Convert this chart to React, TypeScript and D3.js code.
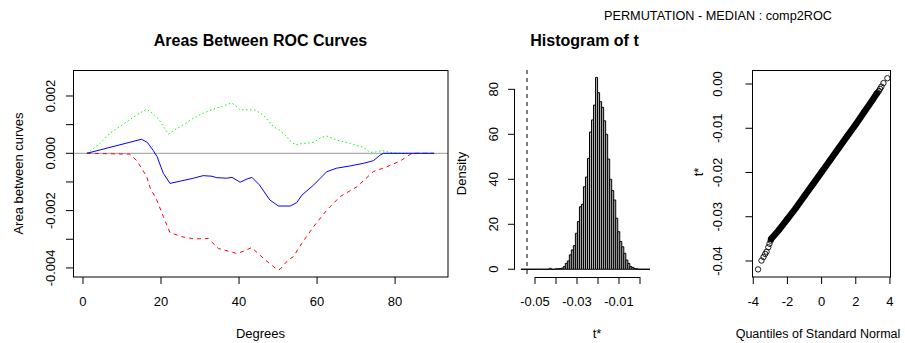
import React from "react";
import * as d3 from "d3";

// ---------- Data ----------
// Panel 1: areas between ROC curves (degrees, value)
const greenCurve: [number, number][] = [
  [1, 0], [4, 0.0003], [6.9, 0.0007], [11.2, 0.0011], [14.5, 0.0014], [16.3, 0.00154], [17.8, 0.0014],
  [19.5, 0.00118], [20.8, 0.0009], [21.9, 0.00067], [23.5, 0.00082], [25.7, 0.00099], [28, 0.0012],
  [30.8, 0.0014], [34, 0.00157], [36, 0.00165], [38.1, 0.00176], [39.2, 0.00165], [40.3, 0.00151],
  [42, 0.00152], [44.1, 0.00151], [46.2, 0.00134], [48.8, 0.00093], [50.5, 0.0008], [51.8, 0.00064],
  [53, 0.00045], [54.4, 0.00029], [56, 0.00034], [58, 0.00036], [59.5, 0.00041], [61, 0.00055],
  [62.5, 0.0006], [64, 0.00052], [65, 0.00046], [68.5, 0.00035], [70, 0.00028], [71.9, 0.00021],
  [73.6, 0.00003], [75, 0.00005], [76.6, 0.0001], [78.7, 0.00003], [81, 0], [90, 0],
];
const blueCurve: [number, number][] = [
  [1, 0], [15, 0.00049], [16.5, 0.00038], [18, 0.0001], [19, -0.00012], [20.6, -0.0007], [22.3, -0.00105],
  [25, -0.00097], [28.3, -0.00087], [30.8, -0.00078], [33, -0.0008], [34.3, -0.00085], [36.8, -0.00087],
  [38.2, -0.00084], [40.3, -0.00101], [42, -0.0009], [43.3, -0.00084], [45.2, -0.0011], [47.9, -0.00163],
  [50.1, -0.00184], [53.1, -0.00184], [54.8, -0.00172], [56.1, -0.00146], [59.1, -0.00111], [62.5, -0.00064],
  [65, -0.00052], [68.5, -0.00044], [71.9, -0.00035], [74.4, -0.00026], [76.2, -0.00006], [77, 0], [90, 0],
];
const redCurve: [number, number][] = [
  [1, 0], [12, -0.00003], [13.8, -0.00026], [16.3, -0.0008], [17.2, -0.0012], [18.9, -0.00163],
  [20.6, -0.00221], [22.3, -0.00277], [25.3, -0.00291], [28.7, -0.00299], [32.1, -0.00297], [34.7, -0.00332],
  [37.7, -0.00343], [39.5, -0.0035], [41.5, -0.0034], [43.2, -0.00329], [46.7, -0.00372], [49.7, -0.00405],
  [50.5, -0.00405], [52.6, -0.00372], [53.9, -0.00361], [56.1, -0.00314], [59.1, -0.00256], [62.5, -0.00198],
  [65.9, -0.00151], [70.2, -0.00117], [74.4, -0.00064], [77.9, -0.00047], [81.3, -0.00027], [84.3, 0], [90, 0],
];
const degTicks = [0, 20, 40, 60, 80];
const areaTicks = [-0.004, -0.003, -0.002, -0.001, 0, 0.001, 0.002];
const areaLabels = [-0.004, -0.002, 0, 0.002];

// Panel 2: histogram of t (density per bin)
const T0 = -0.0538;
const BIN_WIDTH = 0.00096;
const FIRST_K = -3;
const densities = [
  0, 0, 0, 0, 0, 0, 0, 0, 0, 0, 0, 0, 0, 0, // k=-3..10
  0.4, 0, 0, 0.2, 0.2, 0.3, 0.5, 1.2, 2.6, 3.7, 6.4, 8.6, 10.5, 16, 21.2, 27.8, 28.9, 36.7, 41, 49.3, 61, 66.4, 73,
  85.3,
  78.5, 74.5, 72, 66, 60, 49, 40, 35, 30.8, 22.7, 16.7, 12.3, 10, 7.1, 4.1, 2.6, 1.2, 0.8, 0.3, 0.2,
  0, 0, 0, 0, 0, 0,
];
const histXTicks = [-0.05, -0.04, -0.03, -0.02, -0.01, 0];
const histXLabels = [-0.05, -0.03, -0.01];
const histYTicks = [0, 20, 40, 60, 80];

// Panel 3: normal QQ plot (theoretical quantile, t*)
const qqDense: [number, number][] = [
  [-2.95, -0.035], [-2.5, -0.033], [-2.0, -0.0305], [-1.5, -0.028], [-1, -0.0253], [-0.5, -0.0226],
  [0, -0.0199], [0.5, -0.0172], [1, -0.0145], [1.5, -0.0118], [2, -0.0091], [2.5, -0.0063], [3.0, -0.0035],
  [3.22, -0.0022],
];
const qqTail: [number, number][] = [
  [-3.72, -0.0419], [-3.52, -0.0399], [-3.4, -0.0391], [-3.3, -0.0384], [-3.22, -0.0379], [-3.12, -0.0369],
  [-3.05, -0.0361], [-2.98, -0.0354],
  [3.28, -0.0019], [3.35, -0.0016], [3.42, -0.0011], [3.5, -0.0006], [3.62, 0.0002], [3.85, 0.0013],
];
const qqXTicks = [-4, -2, 0, 2, 4];
const qqYTicks = [0, -0.01, -0.02, -0.03, -0.04];

// ---------- Layout ----------
const W = 905, H = 343;
const FONT = "'Liberation Sans', Arial, sans-serif";
const TOP = 70, BOTTOM = 277;

export default function App() {
  // Panel 1
  const x1 = d3.scaleLinear().domain([-2.56, 93.56]).range([73, 448]);
  const y1 = d3.scaleLinear().domain([-0.004317, 0.002907]).range([BOTTOM, TOP]);
  const line1 = d3.line<[number, number]>().x(d => x1(d[0])).y(d => y1(d[1]));

  // Panel 2
  const x2 = d3.scaleLinear().domain([-0.05952, 0.00714]).range([515, 655]);
  const y2 = d3.scaleLinear().domain([-3.44, 88.6]).range([BOTTOM, TOP]);
  const bars = densities.map((h, i) => {
    const a = T0 + (FIRST_K + i) * BIN_WIDTH;
    return { x0: a, x1: a + BIN_WIDTH, h };
  });

  // Panel 3
  const x3 = d3.scaleLinear().domain([-4.05, 4.05]).range([752.4, 890.8]);
  const y3 = d3.scaleLinear().domain([-0.043616, 0.003164]).range([BOTTOM, TOP]);
  const line3 = d3.line<[number, number]>().x(d => x3(d[0])).y(d => y3(d[1]));

  const tickLen = 7;
  const txt = { fontFamily: FONT, fontSize: 13, fill: "#000" } as const;

  const rotLabel = (x: number, y: number, s: string, key: string, size = 13) => (
    <text key={key} transform={`translate(${x},${y}) rotate(-90)`} textAnchor="middle" dy="0.35em"
      style={{ ...txt, fontSize: size }}>{s}</text>
  );

  return (
    <svg width={W} height={H} style={{ position: "absolute", left: 0, top: 0, background: "#fff" }}>
      <rect x={0} y={0} width={W} height={H} fill="#fff" />
      {/* super title */}
      <text x={718} y={16} textAnchor="middle" dy="0.35em" style={{ ...txt, fontSize: 12.7 }}>
        PERMUTATION - MEDIAN : comp2ROC
      </text>

      {/* ---------- Panel 1 ---------- */}
      <text x={260.5} y={40} textAnchor="middle" dy="0.35em" style={{ ...txt, fontSize: 16, fontWeight: "bold" }}>
        Areas Between ROC Curves
      </text>
      <line x1={73} x2={448} y1={y1(0)} y2={y1(0)} stroke="#9a9a9a" strokeWidth={1} />
      <path d={line1(greenCurve) || ""} fill="none" stroke="#00ff00" strokeWidth={1} strokeDasharray="1.5,2.5" />
      <path d={line1(redCurve) || ""} fill="none" stroke="#ff0000" strokeWidth={1} strokeDasharray="4,4" />
      <path d={line1(blueCurve) || ""} fill="none" stroke="#0000ff" strokeWidth={1} />
      <rect x={73.5} y={70.5} width={374.5} height={206.5} fill="none" stroke="#000" strokeWidth={1} />
      {degTicks.map(t => (
        <g key={"dx" + t}>
          <line x1={x1(t)} x2={x1(t)} y1={277} y2={277 + tickLen} stroke="#000" />
          <text x={x1(t)} y={301.5} textAnchor="middle" dy="0.35em" style={txt}>{t}</text>
        </g>
      ))}
      {areaTicks.map(t => (
        <line key={"ay" + t} x1={73 - tickLen} x2={73} y1={y1(t)} y2={y1(t)} stroke="#000" />
      ))}
      {areaLabels.map(t => rotLabel(50, y1(t), t.toFixed(3), "al" + t))}
      <text x={260.5} y={333} textAnchor="middle" dy="0.35em" style={txt}>Degrees</text>
      {rotLabel(18, 173.5, "Area between curves", "ylab1")}

      {/* ---------- Panel 2 ---------- */}
      <text x={584.5} y={40} textAnchor="middle" dy="0.35em" style={{ ...txt, fontSize: 16, fontWeight: "bold" }}>
        Histogram of t
      </text>
      {bars.map((b, i) => {
        const xa = x2(b.x0), xb = x2(b.x1), y0 = y2(0), yt = y2(b.h);
        return (
          <path key={"bar" + i} d={`M${xa},${y0}V${yt}H${xb}V${y0}Z`} fill="#b8b8b8" stroke="#000" strokeWidth={1} />
        );
      })}
      <line x1={x2(T0)} x2={x2(T0)} y1={TOP} y2={BOTTOM} stroke="#000" strokeWidth={1} strokeDasharray="4,4" />
      <line x1={x2(-0.05)} x2={x2(0)} y1={277.5} y2={277.5} stroke="#000" />
      {histXTicks.map(t => (
        <line key={"hx" + t} x1={x2(t)} x2={x2(t)} y1={277} y2={277 + tickLen} stroke="#000" />
      ))}
      {histXLabels.map(t => (
        <text key={"hxl" + t} x={x2(t)} y={301.5} textAnchor="middle" dy="0.35em" style={txt}>{t.toFixed(2)}</text>
      ))}
      <line x1={514.5} x2={514.5} y1={y2(0)} y2={y2(80)} stroke="#000" />
      {histYTicks.map(t => (
        <g key={"hy" + t}>
          <line x1={515 - tickLen} x2={515} y1={y2(t)} y2={y2(t)} stroke="#000" />
          {rotLabel(493, y2(t), String(t), "hyl" + t)}
        </g>
      ))}
      <text x={597} y={333} textAnchor="middle" dy="0.35em" style={txt}>t*</text>
      {rotLabel(461, 173.5, "Density", "ylab2")}

      {/* ---------- Panel 3 ---------- */}
      <defs>
        <clipPath id="qqclip">
          <rect x={752.4} y={70} width={138.4} height={207} />
        </clipPath>
      </defs>
      <g clipPath="url(#qqclip)">
        <path d={line3(qqDense) || ""} fill="none" stroke="#000" strokeWidth={6.5} strokeLinecap="round" />
        {qqDense.concat(qqTail).map((p, i) => (
          <circle key={"qp" + i} cx={x3(p[0])} cy={y3(p[1])} r={2.7} fill="none" stroke="#000" strokeWidth={0.9} />
        ))}
      </g>
      <rect x={752.5} y={70.5} width={138} height={206.5} fill="none" stroke="#000" strokeWidth={1} />
      {qqXTicks.map(t => (
        <g key={"qx" + t}>
          <line x1={x3(t)} x2={x3(t)} y1={277} y2={277 + tickLen} stroke="#000" />
          <text x={x3(t)} y={301.5} textAnchor="middle" dy="0.35em" style={txt}>{t}</text>
        </g>
      ))}
      {qqYTicks.map(t => (
        <g key={"qy" + t}>
          <line x1={752.4 - tickLen} x2={752.4} y1={y3(t)} y2={y3(t)} stroke="#000" />
          {rotLabel(717, y3(t), t === 0 ? "0.00" : t.toFixed(2), "qyl" + t)}
        </g>
      ))}
      <text x={818} y={334} textAnchor="middle" dy="0.35em" style={{ ...txt, fontSize: 12.5 }}>
        Quantiles of Standard Normal
      </text>
      {rotLabel(698, 172, "t*", "ylab3")}
    </svg>
  );
}
